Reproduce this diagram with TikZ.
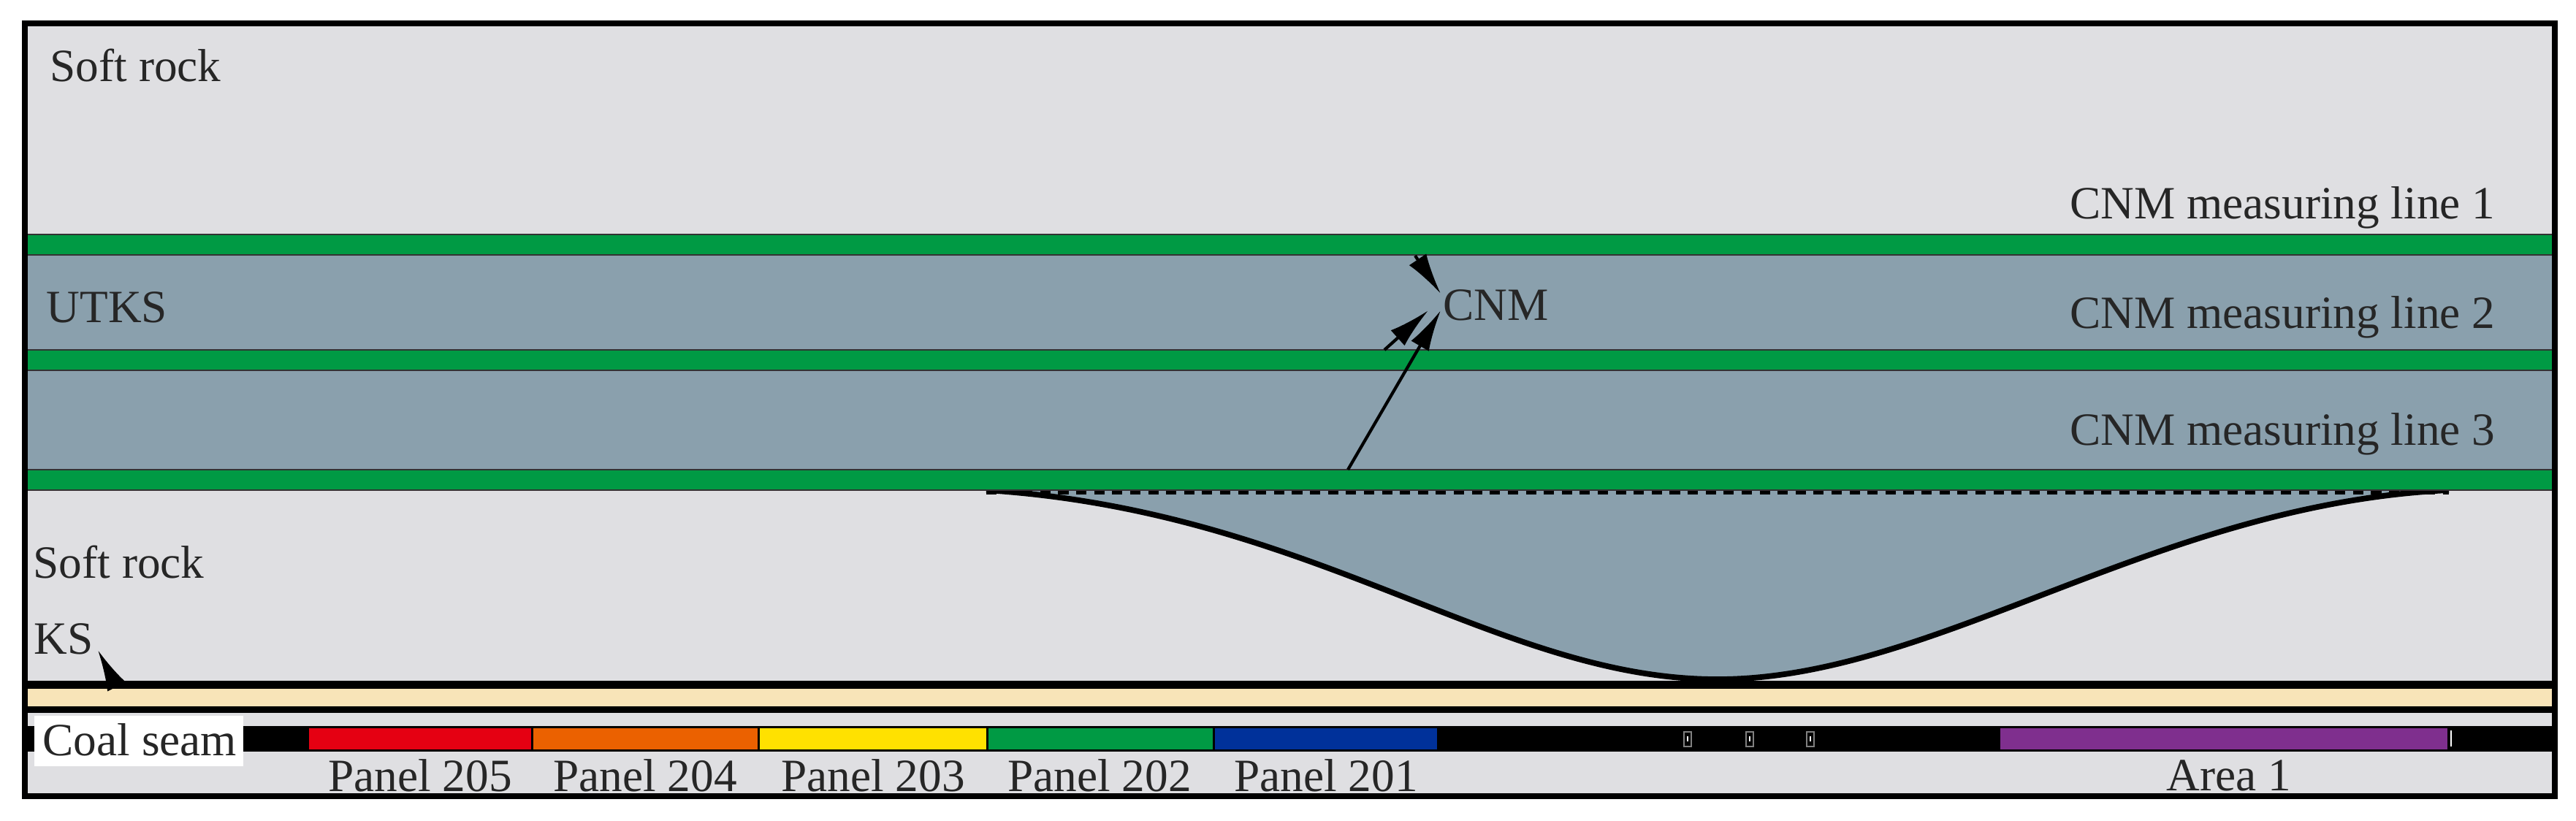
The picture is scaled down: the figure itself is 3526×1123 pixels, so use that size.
\documentclass[tikz,border=0pt]{standalone}
\usepackage{fontspec}
\setmainfont{Liberation Serif}
\usetikzlibrary{arrows.meta}
\definecolor{rockg}{HTML}{DFDFE2}
\definecolor{utks}{HTML}{8AA0AD}
\definecolor{grn}{HTML}{009A44}
\definecolor{tan}{HTML}{F8E4B8}
\definecolor{pred}{HTML}{E50012}
\definecolor{porg}{HTML}{EB6100}
\definecolor{pyel}{HTML}{FFE100}
\definecolor{pblu}{HTML}{00319A}
\definecolor{ppur}{HTML}{7F2F8E}
\tikzset{lbl/.style={font=\fontsize{18}{21}\selectfont,inner sep=0pt,text=black!85},
 gline/.style={fill=grn,draw=black!80,line width=0.6pt},
 arr/.style={-{Latex[length=16pt,width=8pt]},line width=1.2pt}}
\begin{document}
\begin{tikzpicture}[x=0.01cm,y=-0.01cm]
\useasboundingbox (0,0) rectangle (3526,1123);
\fill[white] (0,0) rectangle (3526,1123);
\fill[rockg] (34,32) rectangle (3497,1090);
\fill[utks] (34,321) rectangle (3497,671);
% trough
\fill[utks] (1350,671) .. controls (1800,700) and (2050,930) .. (2351,930) .. controls (2650,930) and (2950,690) .. (3352,671) -- cycle;
\draw[line width=2.2pt] (1350,671) .. controls (1800,700) and (2050,930) .. (2351,930) .. controls (2650,930) and (2950,690) .. (3352,671);
\draw[line width=1.5pt,dashed,dash pattern=on 4pt off 3pt] (1350,674) -- (3352,674);
% green lines
\filldraw[gline] (34,321) rectangle (3497,349);
\filldraw[gline] (34,479) rectangle (3497,507);
\filldraw[gline] (34,643) rectangle (3497,671);
% tan band
\fill[black] (34,932) rectangle (3497,976);
\fill[tan] (34,943) rectangle (3497,967);
% coal seam bar
\fill[black] (34,994) rectangle (3497,1029);
\fill[pred] (423,997) rectangle (727,1026);
\fill[porg] (730,997) rectangle (1037,1026);
\fill[pyel] (1040,997) rectangle (1350,1026);
\fill[grn] (1353,997) rectangle (1660,1026);
\fill[pblu] (1663,997) rectangle (1967,1026);
\fill[ppur] (2738,997) rectangle (3350,1026);
\draw[white,line width=0.8pt] (3355,1000) -- (3355,1022);
\foreach \xx in {2310,2395,2478} {\draw[black!50,line width=0.8pt] (\xx-5,1002) rectangle (\xx+5,1022); \fill[white] (\xx-1,1008) rectangle (\xx+1,1015);}
\fill[white] (47,980) rectangle (333,1049);
\node[lbl,anchor=west] (coal) at (58,1013) {Coal seam};
% frame
\draw[line width=2.5pt] (34,32) rectangle (3497,1090);
% labels
\node[lbl,anchor=west] (sr1) at (68,90) {Soft rock};
\node[lbl,anchor=west] (utkslbl) at (63,421) {UTKS};
\node[lbl,anchor=west] (sr2) at (45,770) {Soft rock};
\node[lbl,anchor=west] (ks) at (46,875) {KS};
\node[lbl,anchor=east] (m1) at (3416,284) {CNM measuring line 1};
\node[lbl,anchor=east] (m2) at (3416,434) {CNM measuring line 2};
\node[lbl,anchor=east] (m3) at (3416,594) {CNM measuring line 3};
\node[lbl,anchor=west] (cnm) at (1975,418) {CNM};
\node[lbl] (p205) at (575,1062) {Panel 205};
\node[lbl] (p204) at (883,1062) {Panel 204};
\node[lbl] (p203) at (1195,1062) {Panel 203};
\node[lbl] (p202) at (1505,1062) {Panel 202};
\node[lbl] (p201) at (1815,1062) {Panel 201};
\node[lbl] (a1) at (3051,1062) {Area 1};
% arrows
\coordinate (t1) at (1937,350);
\coordinate (t2) at (1895,479);
\coordinate (t3) at (1845,643);
\coordinate (tk) at (157,935);
\draw[arr] (t1) -- (1972,402);
\draw[arr] (t2) -- (1955,425);
\draw[arr] (t3) -- (1972,425);
\draw[arr] (tk) -- (134,890);
\end{tikzpicture}
\end{document}
